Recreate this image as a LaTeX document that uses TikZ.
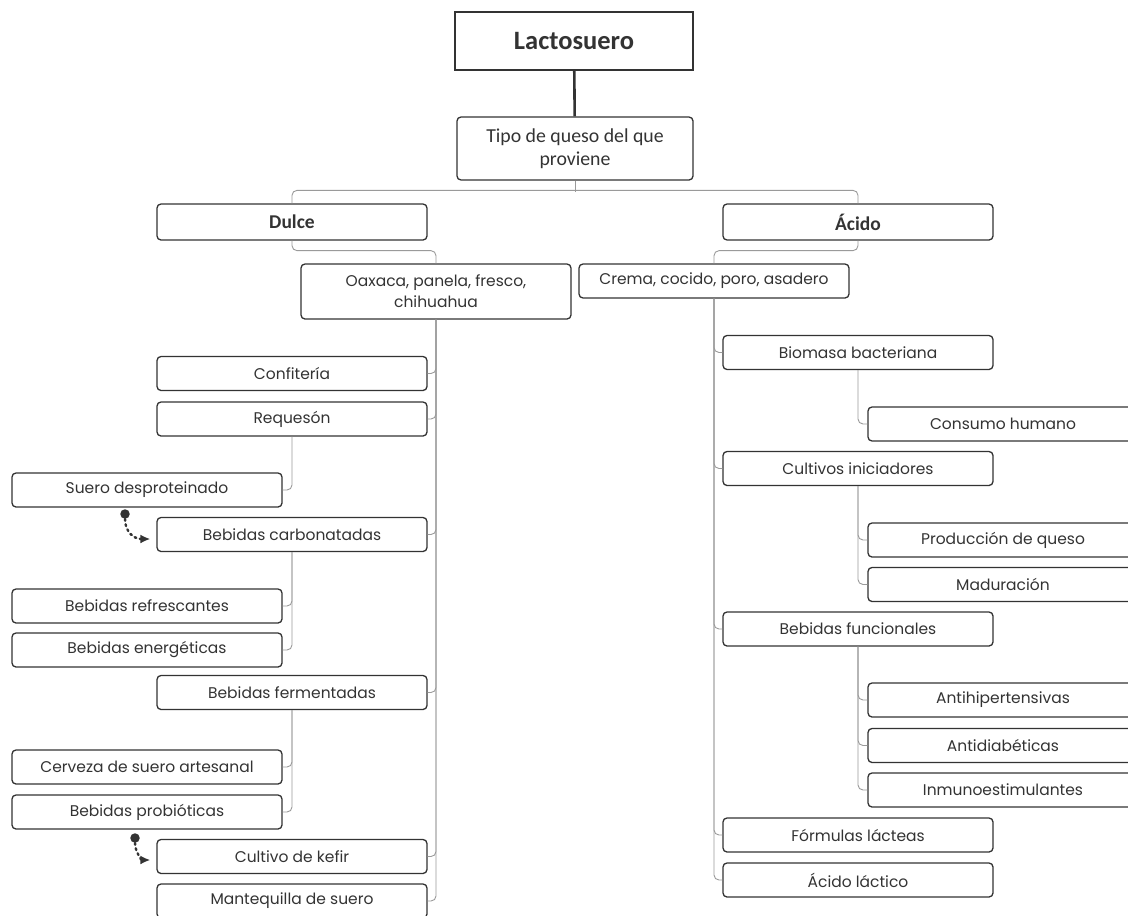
\documentclass[tikz,border=0pt]{standalone}
\usepackage{fontspec}
\setmainfont{Poppins}
\newfontfamily\calfont{Carlito}
\usetikzlibrary{arrows.meta}
\definecolor{ink}{HTML}{333333}
\definecolor{wire}{HTML}{9A9A9A}

\begin{document}
\begin{tikzpicture}
  [x=1pt,y=-1pt]
      \tikzstyle{box_style} = [draw=ink, line width=1.3pt, rounded corners=4pt, minimum width=270pt, minimum height=34pt, text=ink, align=center, inner sep=2pt, font=\fontsize{15.5}{21}\selectfont]
      \tikzstyle{head_style} = [box_style, font=\calfont\bfseries\fontsize{19.5}{22}\selectfont, minimum height=36pt]
      \tikzstyle{edge_style} = [draw=wire, line width=0.9pt, rounded corners=5pt]
      \tikzstyle{hint_style} = [draw=ink, line width=2.4pt, dash pattern=on 1.8pt off 3.6pt, line cap=round, -{Latex[length=10pt,width=9pt]}, shorten >=6pt]
      \tikzstyle{dot_style} = [circle, fill=ink, inner sep=0pt, minimum size=9.5pt]
  \useasboundingbox (0,0) rectangle (1128,916);
  \node[box_style, sharp corners, line width=1.8pt, minimum width=238pt, minimum height=58pt, font=\calfont\bfseries\fontsize{26.5}{28}\selectfont] (n0) at (574,41) {Lactosuero};
  \node[box_style, minimum width=236pt, minimum height=63pt, font=\calfont\fontsize{19.8}{23}\selectfont] (n1) at (575,148.5) {Tipo de queso del que\\proviene};
  \node[head_style] (n2) at (292,222) {Dulce};
  \node[head_style] (n3) at (858,222) {Ácido};
  \node[box_style, minimum height=55pt] (n4) at (436,291.5) {Oaxaca, panela, fresco,\\chihuahua};
  \node[box_style] (n5) at (714,281) {Crema, cocido, poro, asadero};

  \node[box_style] (n6) at (292,373.5) {Confitería};
  \node[box_style] (n7) at (292,419) {Requesón};
  \node[box_style] (n8) at (147,490) {Suero desproteinado};
  \node[box_style] (n9) at (292,534.5) {Bebidas carbonatadas};
  \node[box_style] (n10) at (147,606) {Bebidas refrescantes};
  \node[box_style] (n11) at (147,650) {Bebidas energéticas};
  \node[box_style] (n12) at (292,692.5) {Bebidas fermentadas};
  \node[box_style] (n13) at (147,767) {Cerveza de suero artesanal};
  \node[box_style] (n14) at (147,812) {Bebidas probióticas};
  \node[box_style] (n15) at (292,856.5) {Cultivo de kefir};
  \node[box_style] (n16) at (292,901) {Mantequilla de suero};

  \node[box_style] (n17) at (858,352.5) {Biomasa bacteriana};
  \node[box_style] (n18) at (1003,424) {Consumo humano};
  \node[box_style] (n19) at (858,468.5) {Cultivos iniciadores};
  \node[box_style] (n20) at (1003,540) {Producción de queso};
  \node[box_style] (n21) at (1003,584.5) {Maduración};
  \node[box_style] (n22) at (858,629) {Bebidas funcionales};
  \node[box_style] (n23) at (1003,700) {Antihipertensivas};
  \node[box_style] (n24) at (1003,745.5) {Antidiabéticas};
  \node[box_style] (n25) at (1003,790) {Inmunoestimulantes};
  \node[box_style] (n26) at (858,835) {Fórmulas lácteas};
  \node[box_style] (n27) at (858,880) {Ácido láctico};

  \node[dot_style] (d0) at (125,514) {};
  \node[dot_style] (d1) at (135,838) {};

  \draw[draw=ink, line width=2.6pt] (n0) -- (n1);
  \draw[edge_style] (n1.south) -- ++(0,11);
  \draw[edge_style] (n2.north) -- ++(0,-13) -| (n3.north);
  \draw[edge_style] (n2.south) -- ++(0,10) -| (n4.north);
  \draw[edge_style] (n3.south) -- ++(0,10) -| (n5.north);

  \draw[edge_style] (n4.south) |- (n6.east);
  \draw[edge_style] (n4.south) |- (n7.east);
  \draw[edge_style] (n4.south) |- (n9.east);
  \draw[edge_style] (n4.south) |- (n12.east);
  \draw[edge_style] (n4.south) |- (n15.east);
  \draw[edge_style] (n4.south) |- (n16.east);
  \draw[edge_style] (n7.south) |- (n8.east);
  \draw[edge_style] (n9.south) |- (n10.east);
  \draw[edge_style] (n9.south) |- (n11.east);
  \draw[edge_style] (n12.south) |- (n13.east);
  \draw[edge_style] (n12.south) |- (n14.east);

  \draw[edge_style] (n5.south) |- (n17.west);
  \draw[edge_style] (n5.south) |- (n19.west);
  \draw[edge_style] (n5.south) |- (n22.west);
  \draw[edge_style] (n5.south) |- (n26.west);
  \draw[edge_style] (n5.south) |- (n27.west);
  \draw[edge_style] (n17.south) |- (n18.west);
  \draw[edge_style] (n19.south) |- (n20.west);
  \draw[edge_style] (n19.south) |- (n21.west);
  \draw[edge_style] (n22.south) |- (n23.west);
  \draw[edge_style] (n22.south) |- (n24.west);
  \draw[edge_style] (n22.south) |- (n25.west);

  \draw[hint_style] (d0) .. controls (125,532) and (134,539) .. ([yshift=-4.5pt]n9.west);
  \draw[hint_style] (d1) .. controls (135,852) and (142,860) .. ([yshift=-3.5pt]n15.west);
\end{tikzpicture}
\end{document}
